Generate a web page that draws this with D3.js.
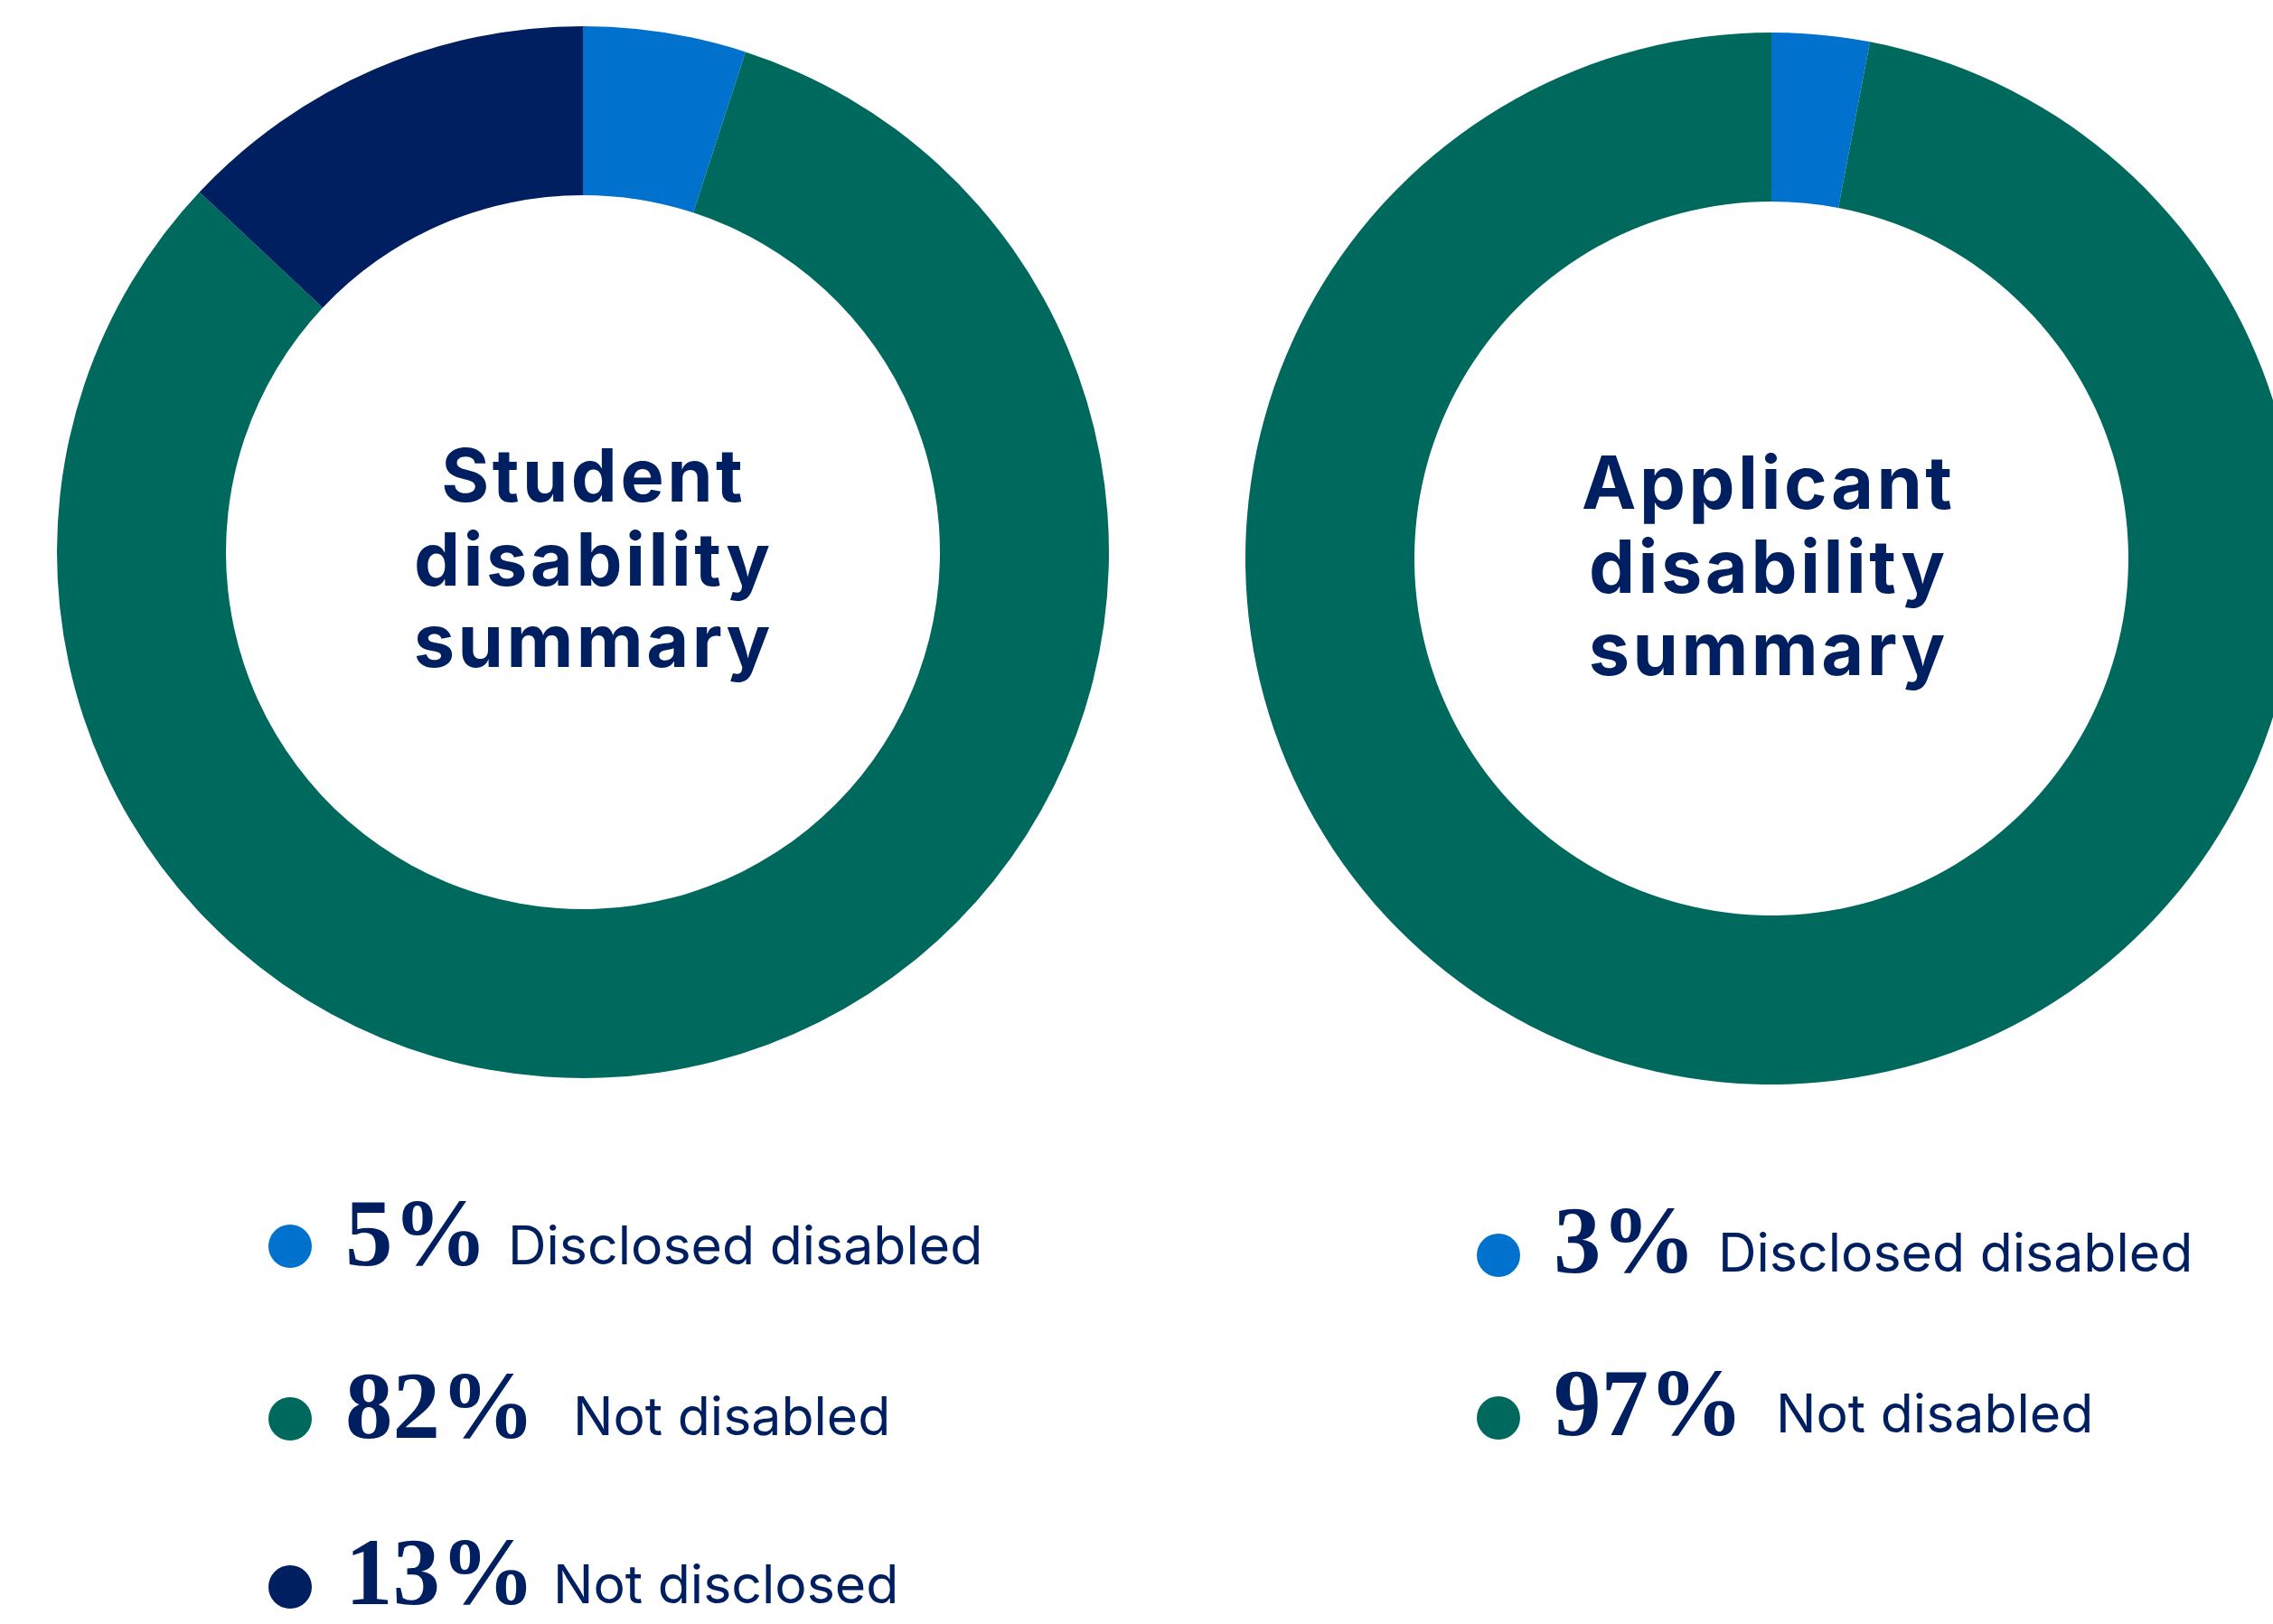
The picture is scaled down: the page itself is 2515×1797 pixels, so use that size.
<!DOCTYPE html>
<html>
<head>
<meta charset="utf-8">
<script src="https://cdn.jsdelivr.net/npm/d3@7"></script>
<style>
  html, body { margin: 0; padding: 0; background: #ffffff; }
  svg { display: block; }
</style>
</head>
<body>
<svg id="chart" width="2515" height="1797"></svg>
<script>
// Disability summary data
const studentCategories = ["Disclosed disabled", "Not disabled", "Not disclosed"];
const studentValues = [5, 82, 13];
const applicantCategories = ["Disclosed disabled", "Not disabled"];
const applicantValues = [3, 97];
const titleStudent = ["Student", "disability", "summary"];
const titleApplicant = ["Applicant", "disability", "summary"];

const colorByCategory = {
  "Disclosed disabled": "#0072ce",
  "Not disabled": "#00695e",
  "Not disclosed": "#001f60"
};
const textColor = "#001f60";

const svg = d3.select("#chart");

const outerR = 582, innerR = 395;
const arc = d3.arc().innerRadius(innerR).outerRadius(outerR);
const pie = d3.pie().sort(null).value(d => d.value);

function donut(cx, cy, cats, vals, title, titleX, titleBaselines) {
  const data = cats.map((c, i) => ({ category: c, value: vals[i] }));
  const g = svg.append("g").attr("transform", `translate(${cx},${cy})`);
  g.selectAll("path")
    .data(pie(data))
    .join("path")
    .attr("d", arc)
    .attr("fill", d => colorByCategory[d.data.category]);

  const ls = 3.5;
  g.selectAll("text.title")
    .data(title)
    .join("text")
    .attr("class", "title")
    .attr("x", titleX + ls / 2)
    .attr("y", (d, i) => titleBaselines[i])
    .attr("text-anchor", "middle")
    .attr("font-family", "Inter, 'Noto Sans', sans-serif")
    .attr("font-weight", 700)
    .attr("font-size", 81)
    .attr("letter-spacing", ls)
    .attr("fill", textColor)
    .text(d => d);
}

donut(645, 611, studentCategories, studentValues, titleStudent, 10, [-56, 37, 127]);
donut(1960, 618, applicantCategories, applicantValues, titleApplicant, -5, [-55, 38, 129]);

function legend(dotX, rows, cats, vals) {
  const g = svg.append("g");
  cats.forEach((c, i) => {
    const r = rows[i];
    g.append("circle")
      .attr("cx", dotX)
      .attr("cy", r.dotY)
      .attr("r", 24)
      .attr("fill", colorByCategory[c]);
    g.append("text")
      .attr("x", dotX + 61)
      .attr("y", r.baseline)
      .attr("font-family", "'Liberation Serif', 'DejaVu Serif', serif")
      .attr("font-weight", 700)
      .attr("font-size", 105)
      .attr("fill", textColor)
      .text(d3.format("d")(vals[i]) + "%");
    g.append("text")
      .attr("x", r.labelX)
      .attr("y", r.labelBaseline)
      .attr("font-family", "Inter, 'Noto Sans', sans-serif")
      .attr("font-weight", 400)
      .attr("font-size", 59)
      .attr("fill", textColor)
      .text(c);
  });
}

legend(321, [
  { dotY: 1379, baseline: 1400, labelX: 562, labelBaseline: 1399 },
  { dotY: 1570, baseline: 1591, labelX: 634, labelBaseline: 1588 },
  { dotY: 1756, baseline: 1775, labelX: 612, labelBaseline: 1774 }
], studentCategories, studentValues);

legend(1658, [
  { dotY: 1389, baseline: 1408, labelX: 1901, labelBaseline: 1407 },
  { dotY: 1569, baseline: 1588, labelX: 1965, labelBaseline: 1585 }
], applicantCategories, applicantValues);
</script>
</body>
</html>
